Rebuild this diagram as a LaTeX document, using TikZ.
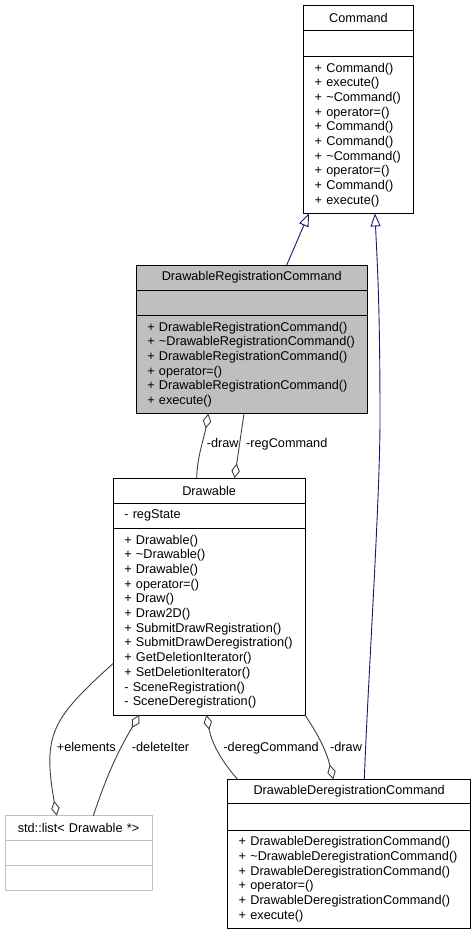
\documentclass[tikz,border=0pt]{standalone}
\usepackage{fontspec}
\setmainfont{Liberation Sans}
\usepackage{tikz}
\usetikzlibrary{positioning,arrows.meta}
\definecolor{edgegray}{HTML}{404040}
\definecolor{inhblue}{HTML}{191970}
\definecolor{classgray}{HTML}{BFBFBF}
\newcommand{\umlfont}{\fontsize{12.7}{14.7}\selectfont}
\tikzstyle{clshead}=[rectangle, draw=black, line width=1pt, outer sep=0pt, inner xsep=11pt, inner ysep=0pt,
        minimum height=25pt, align=center, font=\umlfont]
\tikzstyle{clsbody}=[clshead, align=left]
\tikzstyle{undoc}=[draw=classgray]
\tikzstyle{inherit}=[draw=inhblue, line width=0.9pt, -{Triangle[open, length=13pt, width=10pt]}]
\tikzstyle{aggr}=[draw=edgegray, line width=0.9pt, -{Diamond[open, length=15pt, width=8.5pt]}]
\tikzstyle{lbl}=[font=\umlfont, inner sep=0pt, anchor=base west]

\begin{document}
\begin{tikzpicture}[x=1pt, y=1pt]
\useasboundingbox (0,0) rectangle (476,-935);

% Command
\node[clshead, text width=87.6pt, anchor=north west] (cmd) at (303.7,-5.7) {Command};
\node[clsbody, text width=87.6pt, minimum height=25.7pt, below=0pt of cmd] (cmd-attr) {};
\node[clsbody, text width=87.6pt, minimum height=157pt, below=0pt of cmd-attr] (cmd-ops)
  {+~Command()\\+~execute()\\+~\textasciitilde Command()\\+~operator=()\\+~Command()\\+~Command()\\+~\textasciitilde Command()\\+~operator=()\\+~Command()\\+~execute()};

% DrawableRegistrationCommand
\node[clshead, fill=classgray, text width=209pt, anchor=north west] (drc) at (136.3,-265) {DrawableRegistrationCommand};
\node[clsbody, fill=classgray, text width=209pt, minimum height=25.3pt, below=0pt of drc] (drc-attr) {};
\node[clsbody, fill=classgray, text width=209pt, minimum height=98.4pt, below=0pt of drc-attr] (drc-ops)
  {+~DrawableRegistrationCommand()\\+~\textasciitilde DrawableRegistrationCommand()\\+~DrawableRegistrationCommand()\\+~operator=()\\+~DrawableRegistrationCommand()\\+~execute()};

% Drawable
\node[clshead, text width=169.7pt, anchor=north west] (drw) at (113.3,-478.3) {Drawable};
\node[clsbody, text width=169.7pt, below=0pt of drw] (drw-attr) {-~regState};
\node[clsbody, text width=169.7pt, minimum height=186.7pt, below=0pt of drw-attr] (drw-ops)
  {+~Drawable()\\+~\textasciitilde Drawable()\\+~Drawable()\\+~operator=()\\+~Draw()\\+~Draw2D()\\+~SubmitDrawRegistration()\\+~SubmitDrawDeregistration()\\+~GetDeletionIterator()\\+~SetDeletionIterator()\\-~SceneRegistration()\\-~SceneDeregistration()};

% std::list
\node[clshead, undoc, text width=125pt, anchor=north west] (lst) at (5,-815.7) {std::list<~Drawable~*>};
\node[clsbody, undoc, text width=125pt, below=0pt of lst] (lst-attr) {};
\node[clsbody, undoc, text width=125pt, below=0pt of lst-attr] (lst-ops) {};

% DrawableDeregistrationCommand
\node[clshead, text width=221pt, minimum height=24.4pt, anchor=north west] (ddc) at (227.7,-779.3) {DrawableDeregistrationCommand};
\node[clsbody, text width=221pt, minimum height=26.3pt, below=0pt of ddc] (ddc-attr) {};
\node[clsbody, text width=221pt, minimum height=98.6pt, below=0pt of ddc-attr] (ddc-ops)
  {+~DrawableDeregistrationCommand()\\+~\textasciitilde DrawableDeregistrationCommand()\\+~DrawableDeregistrationCommand()\\+~operator=()\\+~DrawableDeregistrationCommand()\\+~execute()};

% inheritance
\draw[inherit] ([xshift=34.9pt]drc.north) -- ([xshift=-49.5pt]cmd-ops.south);
\draw[inherit] ([xshift=15.1pt]ddc.north) .. controls (368,-680) and (380,-500) .. (380,-420)
  .. controls (380,-300) and (377,-260) .. ([xshift=16.5pt]cmd-ops.south);

% members
\draw[aggr] ([xshift=-12.5pt]drw.north) .. controls +(0.5,22) and +(-4.5,-26) .. ([xshift=-43.5pt]drc-ops.south);
\draw[aggr] ([xshift=-7.8pt]drc-ops.south) -- ([xshift=25.4pt]drw.north);
\draw[aggr] ([yshift=-41.7pt]drw-ops.west) to[out=222, in=100, looseness=1.3] ([xshift=-21.8pt]lst.north);
\draw[aggr] ([xshift=14.8pt]lst.north) to[bend left=6] ([xshift=-69.7pt]drw-ops.south);
\draw[aggr] ([xshift=-111.7pt]ddc.north) to[bend left=15] ([xshift=-2.7pt]drw-ops.south);
\draw[aggr] (drw-ops.south east) to[bend left=10] ([xshift=-15.9pt]ddc.north);

\node[lbl] (l-draw) at (206.7,-447.5) {-draw};
\node[lbl] (l-reg) at (246,-447.5) {-regCommand};
\node[lbl] (l-elem) at (56.7,-751) {+elements};
\node[lbl] (l-del) at (131.7,-751) {-deleteIter};
\node[lbl] (l-dereg) at (223.3,-751) {-deregCommand};
\node[lbl] (l-draw2) at (330,-751) {-draw};
\end{tikzpicture}
\end{document}
